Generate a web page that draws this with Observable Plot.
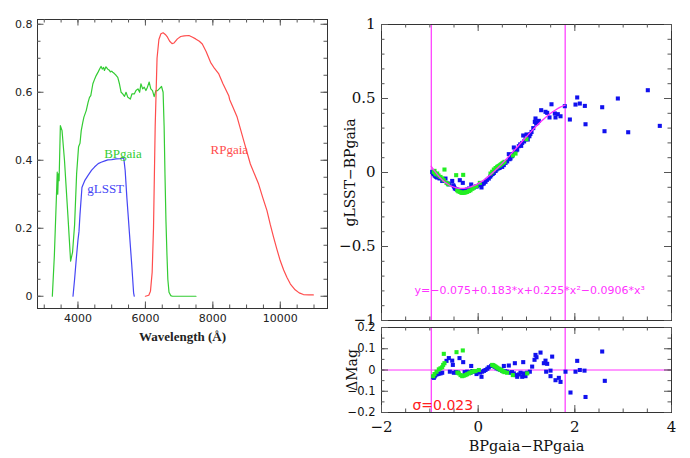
<!DOCTYPE html>
<html><head><meta charset="utf-8">
<script src="https://cdn.jsdelivr.net/npm/d3@7"></script>
<script src="https://cdn.jsdelivr.net/npm/@observablehq/plot@0.6"></script>
<style>
body{margin:0;background:#fff;}
#wrap{position:relative;width:690px;height:458px;overflow:hidden;background:#fff;}
#wrap svg{position:absolute;overflow:visible;background:transparent;}
</style></head><body><div id="wrap"></div>
<script>
// ---------- left panel: filter curves ----------
const bpWave = [3240,3300,3360,3385,3400,3420,3440,3478,3528,3600,3700,3782,3840,3900,3960,4018,4060,4097,4140,4176,4245,4300,4342,4380,4442,4500,4540,4600,4650,4687,4720,4760,4785,4830,4885,4930,4960,5000,5032,5080,5130,5180,5230,5280,5327,5380,5425,5480,5553,5600,5670,5720,5780,5830,5867,5920,5965,6015,6060,6112,6160,6210,6260,6310,6360,6410,6478,6525,6555,6580,6610,6640,6665,6700,6750,6800,7000,7500];
const bpThru = [0,0.12,0.29,0.365,0.30,0.36,0.34,0.502,0.487,0.40,0.24,0.103,0.13,0.21,0.36,0.44,0.45,0.487,0.51,0.527,0.546,0.57,0.585,0.59,0.625,0.64,0.649,0.66,0.67,0.676,0.668,0.673,0.664,0.675,0.668,0.665,0.66,0.662,0.659,0.655,0.65,0.644,0.625,0.60,0.595,0.588,0.60,0.585,0.58,0.595,0.595,0.605,0.61,0.60,0.625,0.61,0.615,0.605,0.615,0.63,0.61,0.605,0.587,0.605,0.605,0.61,0.617,0.60,0.50,0.36,0.22,0.12,0.05,0.012,0.002,0,0,0];
const gWave = [3853,3900,3950,4000,4030,4060,4118,4150,4200,4295,4400,4490,4600,4687,4800,4885,5000,5130,5250,5327,5360,5400,5450,5493,5523,5593,5650,5670];
const gThru = [0,0.05,0.11,0.165,0.19,0.24,0.32,0.328,0.34,0.355,0.37,0.38,0.39,0.394,0.398,0.401,0.402,0.404,0.405,0.407,0.405,0.37,0.29,0.232,0.19,0.095,0.01,0];
const rpWave = [6000,6100,6150,6200,6240,6290,6345,6400,6460,6525,6590,6655,6720,6790,6850,6950,7047,7150,7292,7400,7490,7600,7687,7800,7932,8050,8177,8300,8472,8500,8600,8720,8915,9112,9357,9480,9605,9700,9800,9900,9997,10100,10195,10300,10440,10560,10685,10850,10980];
const rpThru = [0,0.003,0.015,0.07,0.2,0.5,0.7,0.755,0.772,0.775,0.77,0.762,0.75,0.743,0.745,0.757,0.764,0.766,0.767,0.762,0.757,0.75,0.742,0.72,0.688,0.67,0.654,0.625,0.59,0.578,0.555,0.527,0.458,0.389,0.33,0.29,0.252,0.212,0.174,0.138,0.105,0.077,0.056,0.036,0.019,0.01,0.005,0.004,0.004];
const curveLabels = ["BPgaia","gLSST","RPgaia"];
const curveLabelWave = [4776,4274,7933];
const curveLabelThru = [0.42,0.317,0.431];
const waveTicks = [4000,6000,8000,10000];
const thruTicks = [0,0.2,0.4,0.6,0.8];

// ---------- right panels: colour relation ----------
const blueX = [-0.951,-0.935,-0.918,-0.9,-0.883,-0.865,-0.848,-0.8,-0.744,-0.676,-0.628,-0.6,-0.537,-0.516,-0.5,-0.483,-0.46,-0.434,-0.41,-0.38,-0.365,-0.34,-0.318,-0.297,-0.26,-0.227,-0.19,-0.144,-0.12,-0.09,-0.05,-0.02,0.02,0.069,0.09,0.117,0.152,0.18,0.22,0.25,0.27,0.3,0.324,0.36,0.38,0.406,0.43,0.45,0.497,0.53,0.566,0.6,0.634,0.65,0.669,0.7,0.72,0.738,0.76,0.79,0.808,0.841,0.87,0.89,0.911,0.932,0.95,0.98,1.0,1.027,1.06,1.08,1.104,1.14,1.172,1.186,1.2,1.222,1.255,1.304,1.393,1.428,1.476,1.517,1.586,1.6,1.648,1.704,1.793,1.897,2.014,2.049,2.103,2.207,2.221,2.566,2.614,2.89,3.104,3.51,3.758];
const blueY = [0.004,-0.005,-0.011,-0.02,-0.025,-0.03,-0.034,-0.04,-0.057,-0.041,-0.074,-0.08,-0.057,-0.086,-0.095,-0.108,-0.112,-0.115,-0.12,-0.052,-0.12,-0.125,-0.07,-0.124,-0.118,-0.115,-0.108,-0.081,-0.1,-0.101,-0.095,-0.093,-0.085,-0.101,-0.078,-0.074,-0.063,-0.05,-0.041,-0.028,-0.018,-0.01,-0.003,0.01,0.02,0.027,0.03,0.033,0.038,0.05,0.065,0.075,0.124,0.09,0.095,0.11,0.125,0.169,0.14,0.15,0.155,0.178,0.19,0.18,0.2,0.25,0.21,0.225,0.257,0.223,0.245,0.26,0.274,0.3,0.342,0.365,0.33,0.335,0.349,0.421,0.41,0.403,0.372,0.461,0.399,0.372,0.394,0.38,0.448,0.358,0.459,0.507,0.466,0.45,0.326,0.441,0.279,0.5,0.272,0.556,0.315];
const greenX = [-0.918,-0.903,-0.89,-0.87,-0.848,-0.82,-0.779,-0.74,-0.711,-0.697,-0.655,-0.62,-0.455,-0.434,-0.41,-0.38,-0.355,-0.331,-0.31,-0.3,-0.276,-0.25,-0.227,-0.19,-0.159,-0.12,-0.09,-0.034,0.034,0.255,0.29,0.324,0.36,0.393,0.42,0.448,0.47,0.497,0.52,0.545,0.72,0.773,1.0];
const greenY = [0.004,0.011,-0.005,-0.012,-0.007,-0.02,-0.03,-0.04,-0.052,0.02,-0.07,-0.08,-0.018,-0.12,-0.127,-0.131,-0.135,-0.138,-0.016,-0.137,-0.135,-0.133,-0.131,-0.125,-0.12,-0.11,-0.101,-0.093,-0.07,-0.007,0.005,0.02,0.03,0.038,0.044,0.049,0.055,0.061,0.066,0.072,0.115,0.128,0.225];
const fitX = [-0.97,-0.9,-0.8,-0.7,-0.6,-0.5,-0.4,-0.3,-0.2,-0.1,0,0.1,0.2,0.3,0.4,0.5,0.6,0.7,0.8,0.9,1.0,1.1,1.2,1.3,1.4,1.5,1.6,1.7,1.8];
const fitY = [0.0419,0.0086,-0.031,-0.0618,-0.0842,-0.0989,-0.1064,-0.1072,-0.1019,-0.091,-0.075,-0.0545,-0.0301,-0.0023,0.0284,0.0614,0.0962,0.1323,0.169,0.2059,0.2424,0.278,0.312,0.3441,0.3736,0.4,0.4227,0.4412,0.455];
const fitRange = [-0.97, 1.8];
const residBlueX = [-0.93,-0.918,-0.9,-0.883,-0.85,-0.82,-0.779,-0.744,-0.655,-0.607,-0.586,-0.537,-0.524,-0.503,-0.46,-0.42,-0.386,-0.31,-0.28,-0.227,-0.2,-0.159,-0.144,-0.12,-0.09,-0.034,0.0,0.04,0.069,0.083,0.12,0.152,0.19,0.22,0.27,0.3,0.34,0.38,0.42,0.46,0.5,0.531,0.56,0.6,0.634,0.669,0.7,0.738,0.759,0.773,0.808,0.841,0.876,0.911,0.932,0.945,0.979,1.014,1.069,1.117,1.166,1.186,1.207,1.29,1.359,1.393,1.407,1.428,1.497,1.497,1.531,1.6,1.669,1.704,1.807,1.91,2.014,2.049,2.103,2.2,2.221,2.566,2.62];
const residBlueY = [-0.033,-0.037,-0.03,-0.024,-0.02,-0.018,-0.016,-0.013,0.043,0.056,-0.008,0.044,0.024,-0.013,-0.01,-0.012,0.056,0.037,-0.01,-0.008,-0.01,-0.013,0.019,-0.005,-0.008,-0.019,-0.01,-0.012,-0.032,-0.008,-0.004,0.0,0.006,0.013,0.019,0.022,0.015,0.008,0.004,0.0,-0.004,0.019,-0.006,-0.008,0.021,-0.013,-0.01,-0.016,0.032,-0.024,-0.032,-0.021,-0.013,-0.032,0.037,-0.016,-0.029,-0.013,-0.008,0.016,0.048,0.071,0.06,0.082,0.032,0.044,-0.008,0.029,-0.003,-0.029,0.063,-0.048,-0.037,-0.056,-0.008,-0.106,-0.008,0.043,0.0,-0.003,-0.127,0.087,-0.051];
const residGreenX = [-0.93,-0.903,-0.862,-0.814,-0.78,-0.744,-0.724,-0.711,-0.697,-0.448,-0.318,-0.43,-0.4,-0.365,-0.331,-0.3,-0.262,-0.23,-0.193,-0.16,-0.124,-0.09,-0.055,0.014,0.29,0.315,0.338,0.365,0.393,0.42,0.448,0.47,0.497,0.52,0.545,0.6,0.717,1.014];
const residGreenY = [-0.029,-0.019,-0.008,0.003,0.008,0.013,0.024,0.076,0.032,0.084,0.092,-0.012,-0.016,-0.024,-0.029,-0.027,-0.024,-0.02,-0.016,-0.012,-0.008,-0.006,-0.005,0.0,0.024,0.022,0.019,0.015,0.011,0.007,0.003,0.0,-0.003,-0.007,-0.01,-0.013,-0.024,-0.016];
const colourTicks = [-2,0,2,4];
const diffTicks = [-1,-0.5,0,0.5,1];
const residTicks = [-0.2,-0.1,0,0.1,0.2];
const fitText = "y=−0.075+0.183*x+0.225*x²−0.0906*x³";
const sigmaText = "σ=0.023";

// ---------- helpers ----------
const zip = (xs, ys) => xs.map((x, i) => ({x, y: ys[i]}));
const fmt = d => (d < 0 ? "−" : "") + String(Math.abs(d));
const TICK = "#555", FRAME = "#333";
function xTicks(vals, len, fh) {
  return [Plot.ruleX(vals, {insetTop: fh - len, stroke: TICK}),
          Plot.ruleX(vals, {insetBottom: fh - len, stroke: TICK})];
}
function yTicks(vals, len, fw) {
  return [Plot.ruleY(vals, {insetRight: fw - len, stroke: TICK}),
          Plot.ruleY(vals, {insetLeft: fw - len, stroke: TICK})];
}
const wrap = document.getElementById("wrap");
function place(svg, left, top) { svg.style.left = left + "px"; svg.style.top = top + "px"; wrap.appendChild(svg); }

const GREEN = "#33cc33", BLUE = "#4646f5", RED = "#ff4d4d", MAG = "#ff33ff";
const DOTB = "#1111ee", DOTG = "#22ee22";

// ---------- left plot ----------
{
  const W = 340, H = 350, mL = 37, mR = 13, mT = 19, mB = 42;
  const fw = W - mL - mR, fh = H - mT - mB;
  const svg = Plot.plot({
    width: W, height: H, marginLeft: mL, marginRight: mR, marginTop: mT, marginBottom: mB,
    x: {domain: [2800, 11400], axis: null},
    y: {domain: [-0.036, 0.814], axis: null},
    style: {background: "transparent", overflow: "visible"},
    marks: [
      Plot.line(zip(bpWave, bpThru), {x: "x", y: "y", stroke: GREEN, strokeWidth: 1.2}),
      Plot.line(zip(gWave, gThru), {x: "x", y: "y", stroke: BLUE, strokeWidth: 1.2}),
      Plot.line(zip(rpWave, rpThru), {x: "x", y: "y", stroke: RED, strokeWidth: 1.2}),
      Plot.text(curveLabels.map((t, i) => ({t, x: curveLabelWave[i], y: curveLabelThru[i]})),
        {x: "x", y: "y", text: "t", textAnchor: "start", fill: (d) => [GREEN, BLUE, RED][curveLabels.indexOf(d.t)],
         fontFamily: "Liberation Serif", fontSize: 13}),
      Plot.frame({stroke: FRAME}),
      ...xTicks(d3.range(3000, 11001, 500), 3.5, fh),
      ...xTicks(waveTicks, 6.5, fh),
      ...yTicks(d3.range(0, 0.8001, 0.05), 3.5, fw),
      ...yTicks(thruTicks, 6.5, fw),
      Plot.axisX(waveTicks, {tickSize: 0, tickPadding: 6, tickFormat: fmt, label: null, fontFamily: "DejaVu Sans", fontSize: 11, fill: "#222"}),
      Plot.axisY(thruTicks, {tickSize: 0, tickPadding: 5, tickFormat: fmt, label: null, fontFamily: "DejaVu Sans", fontSize: 11, fill: "#222"}),
      Plot.text(["Wavelength (Å)"], {frameAnchor: "bottom", lineAnchor: "middle", dy: 28, text: d => d, fontFamily: "Liberation Serif", fontWeight: "bold", fontSize: 13, fill: "#222"})
    ]
  });
  place(svg, 0, 0);
}

// ---------- upper right plot ----------
{
  const W = 350, H = 340, mL = 41, mR = 19, mT = 24, mB = 20;
  const fw = W - mL - mR, fh = H - mT - mB;
  const svg = Plot.plot({
    width: W, height: H, marginLeft: mL, marginRight: mR, marginTop: mT, marginBottom: mB,
    x: {domain: [-2, 4], axis: null},
    y: {domain: [-1, 1], axis: null},
    style: {background: "transparent", overflow: "visible"},
    marks: [
      Plot.ruleX(fitRange, {stroke: MAG, strokeWidth: 1.2}),
      Plot.dot(zip(blueX, blueY), {x: "x", y: "y", symbol: "square", r: 2.3, fill: DOTB}),
      Plot.dot(zip(greenX, greenY), {x: "x", y: "y", symbol: "square", r: 2.3, fill: DOTG}),
      Plot.line(zip(fitX, fitY), {x: "x", y: "y", stroke: MAG, strokeWidth: 1.3, curve: "natural"}),
      Plot.text([fitText], {x: -1.317, y: -0.795, text: d => d, textAnchor: "start", fill: MAG, fontFamily: "DejaVu Sans", fontSize: 11}),
      Plot.frame({stroke: FRAME}),
      ...xTicks(d3.range(-2, 4.001, 0.5), 3.5, fh),
      ...xTicks(colourTicks, 7, fh),
      ...yTicks(d3.range(-1, 1.001, 0.1), 3.5, fw),
      ...yTicks(diffTicks, 7, fw),
      Plot.axisY(diffTicks, {tickSize: 0, tickPadding: 6, tickFormat: fmt, label: null, fontFamily: "DejaVu Serif", fontSize: 15, fill: "#111"}),
      Plot.text(["gLSST−BPgaia"], {frameAnchor: "left", textAnchor: "middle", lineAnchor: "middle", dx: -31, rotate: -90, text: d => d, fontFamily: "DejaVu Serif", fontSize: 14, fill: "#111"})
    ]
  });
  place(svg, 340, 0);
}

// ---------- lower right plot ----------
{
  const W = 350, H = 136, mL = 41, mR = 19, mT = 5, mB = 46;
  const fw = W - mL - mR, fh = H - mT - mB;
  const svg = Plot.plot({
    width: W, height: H, marginLeft: mL, marginRight: mR, marginTop: mT, marginBottom: mB,
    x: {domain: [-2, 4], axis: null},
    y: {domain: [-0.2, 0.2], axis: null},
    style: {background: "transparent", overflow: "visible"},
    marks: [
      Plot.ruleX(fitRange, {stroke: MAG, strokeWidth: 1.2}),
      Plot.ruleY([0], {stroke: MAG, strokeWidth: 1.2}),
      Plot.dot(zip(residBlueX, residBlueY), {x: "x", y: "y", symbol: "square", r: 2.3, fill: DOTB}),
      Plot.dot(zip(residGreenX, residGreenY), {x: "x", y: "y", symbol: "square", r: 2.3, fill: DOTG}),
      Plot.text([sigmaText], {x: -1.36, y: -0.167, text: d => d, textAnchor: "start", fill: "#ff2020", fontFamily: "DejaVu Sans", fontSize: 14}),
      Plot.frame({stroke: FRAME}),
      ...xTicks(d3.range(-2, 4.001, 0.5), 3.5, fh),
      ...xTicks(colourTicks, 7, fh),
      ...yTicks(d3.range(-0.2, 0.2001, 0.05), 3.5, fw),
      ...yTicks(residTicks, 7, fw),
      Plot.axisY(residTicks, {tickSize: 0, tickPadding: 6, tickFormat: fmt, label: null, fontFamily: "DejaVu Sans", fontSize: 11.5, fill: "#111"}),
      Plot.axisX(colourTicks, {tickSize: 0, tickPadding: 9, tickFormat: fmt, label: null, fontFamily: "DejaVu Serif", fontSize: 15, fill: "#111"}),
      Plot.text(["ΔMag"], {frameAnchor: "left", textAnchor: "middle", lineAnchor: "middle", dx: -29, rotate: -90, text: d => d, fontFamily: "DejaVu Serif", fontSize: 14, fill: "#111"}),
      Plot.text(["BPgaia−RPgaia"], {frameAnchor: "bottom", lineAnchor: "middle", dy: 34, text: d => d, fontFamily: "DejaVu Serif", fontSize: 14.5, fill: "#111"})
    ]
  });
  place(svg, 340, 322);
}
</script></body></html>
